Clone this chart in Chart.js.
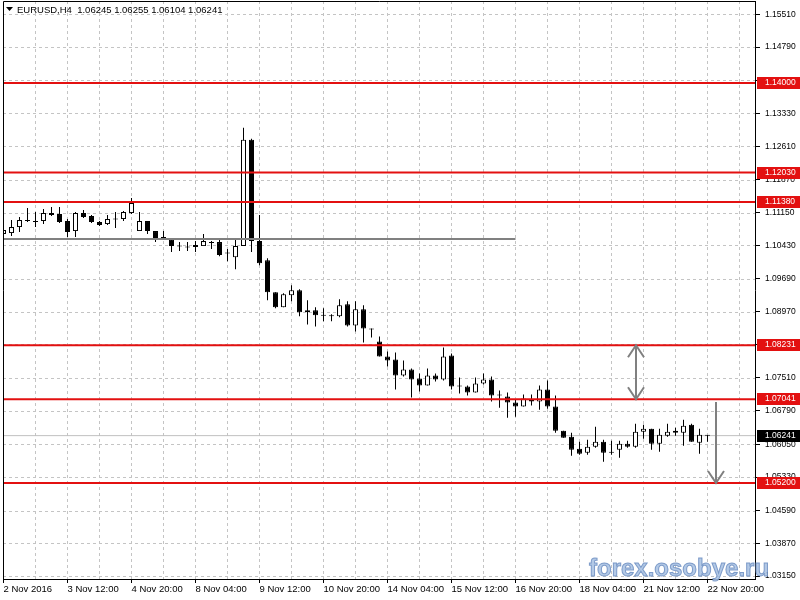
<!DOCTYPE html>
<html>
<head>
<meta charset="utf-8">
<title>EURUSD,H4</title>
<script src="https://cdn.jsdelivr.net/npm/chart.js@4.4.0/dist/chart.umd.min.js"></script>
<style>
  html, body { margin: 0; padding: 0; background: #fff; }
  #wrap { width: 800px; height: 600px; position: relative; }
</style>
</head>
<body>
<div id="wrap"><canvas id="chart"></canvas></div>
<script>
// EURUSD H4, 2 Nov 2016 04:00 .. 22 Nov 2016 20:00 (one entry per bar)
const symbol = 'EURUSD,H4';

const opens = [
    1.10676, 1.10698, 1.10830, 1.10985, 1.10963, 1.10963, 1.11139, 1.11117, 1.10963, 1.10742,
    1.11139, 1.11073, 1.10941, 1.10896, 1.11007, 1.11007, 1.11139, 1.10742, 1.10963, 1.10742,
    1.10610, 1.10565, 1.10422, 1.10389, 1.10389, 1.10411, 1.10499, 1.10499, 1.10257, 1.10168,
    1.10411, 1.12751, 1.10521, 1.10102, 1.09396, 1.09064, 1.09329, 1.09440, 1.08954, 1.08998,
    1.08888, 1.08888, 1.08866, 1.09131, 1.08667, 1.09020, 1.08601, 1.08314, 1.07983, 1.07917,
    1.07564, 1.07696, 1.07497, 1.07343, 1.07564, 1.07475, 1.08005, 1.07343, 1.07321, 1.07188,
    1.07387, 1.07475, 1.07144, 1.07100, 1.06968, 1.06880, 1.07034, 1.06990, 1.07254, 1.06880,
    1.06349, 1.06217, 1.05952, 1.05864, 1.05996, 1.06106, 1.05886, 1.05930, 1.06062, 1.05996,
    1.06327, 1.06393, 1.06062, 1.06239, 1.06349, 1.06305, 1.06482, 1.06084, 1.06245
];
const highs = [
    1.10808, 1.10985, 1.11051, 1.11249, 1.11161, 1.11227, 1.11271, 1.11271, 1.11007, 1.11161,
    1.11205, 1.11095, 1.10963, 1.11095, 1.11161, 1.11183, 1.11470, 1.11161, 1.10963, 1.10742,
    1.10742, 1.10588, 1.10499, 1.10499, 1.10521, 1.10676, 1.10521, 1.10565, 1.10345, 1.10565,
    1.13016, 1.12773, 1.11095, 1.10146, 1.09396, 1.09373, 1.09550, 1.09462, 1.09219, 1.09064,
    1.09042, 1.08910, 1.09241, 1.09197, 1.09197, 1.09109, 1.08601, 1.08425, 1.08093, 1.08071,
    1.07895, 1.07718, 1.07608, 1.07718, 1.07608, 1.08182, 1.08049, 1.07519, 1.07343, 1.07519,
    1.07608, 1.07541, 1.07232, 1.07188, 1.07034, 1.07144, 1.07144, 1.07343, 1.07453, 1.07122,
    1.06349, 1.06305, 1.06106, 1.06151, 1.06438, 1.06151, 1.06128, 1.06128, 1.06128, 1.06504,
    1.06482, 1.06393, 1.06393, 1.06504, 1.06416, 1.06592, 1.06504, 1.06393, 1.06255
];
const lows = [
    1.10610, 1.10632, 1.10720, 1.10941, 1.10830, 1.10896, 1.11073, 1.10919, 1.10610, 1.10610,
    1.11029, 1.10919, 1.10852, 1.10874, 1.10808, 1.10963, 1.11117, 1.10742, 1.10676, 1.10499,
    1.10565, 1.10279, 1.10301, 1.10301, 1.10279, 1.10411, 1.10345, 1.10190, 1.10080, 1.09903,
    1.10411, 1.10279, 1.09992, 1.09219, 1.09042, 1.09064, 1.09197, 1.08866, 1.08689, 1.08645,
    1.08756, 1.08756, 1.08844, 1.08645, 1.08535, 1.08292, 1.08403, 1.07983, 1.07762, 1.07254,
    1.07541, 1.07078, 1.07210, 1.07343, 1.07431, 1.07453, 1.07254, 1.07166, 1.07122, 1.07188,
    1.07365, 1.06990, 1.06857, 1.06637, 1.06659, 1.06880, 1.06902, 1.06813, 1.06835, 1.06305,
    1.06195, 1.05797, 1.05819, 1.05819, 1.05974, 1.05665, 1.05819, 1.05753, 1.05974, 1.05974,
    1.06173, 1.05930, 1.05886, 1.06217, 1.06239, 1.06018, 1.06106, 1.05842, 1.06104
];
const closes = [
    1.10764, 1.10830, 1.10985, 1.10963, 1.10941, 1.11139, 1.11095, 1.10941, 1.10720, 1.11139,
    1.11051, 1.10941, 1.10874, 1.11007, 1.10996, 1.11161, 1.11360, 1.10963, 1.10742, 1.10588,
    1.10588, 1.10411, 1.10400, 1.10378, 1.10433, 1.10521, 1.10477, 1.10213, 1.10246, 1.10411,
    1.12751, 1.10521, 1.10036, 1.09396, 1.09064, 1.09351, 1.09440, 1.08954, 1.08998, 1.08888,
    1.08877, 1.08866, 1.09109, 1.08667, 1.09020, 1.08601, 1.08579, 1.07983, 1.07895, 1.07564,
    1.07696, 1.07475, 1.07343, 1.07564, 1.07475, 1.07983, 1.07321, 1.07321, 1.07188, 1.07387,
    1.07475, 1.07122, 1.07122, 1.06968, 1.06880, 1.07056, 1.06990, 1.07254, 1.06880, 1.06349,
    1.06195, 1.05930, 1.05842, 1.05996, 1.06106, 1.05864, 1.05864, 1.06062, 1.05996, 1.06327,
    1.06393, 1.06062, 1.06261, 1.06327, 1.06305, 1.06460, 1.06106, 1.06261, 1.06241
];

// time labels, one every 8 bars
const xTickLabels = [
    '2 Nov 2016', '3 Nov 12:00', '4 Nov 20:00', '8 Nov 04:00', '9 Nov 12:00', '10 Nov 20:00',
    '14 Nov 04:00', '15 Nov 12:00', '16 Nov 20:00', '18 Nov 04:00', '21 Nov 12:00', '22 Nov 20:00'
];
const yTicks = [
    1.15510, 1.14790, 1.14060, 1.13330, 1.12610, 1.11870, 1.11150, 1.10430, 1.09690,
    1.08970, 1.08250, 1.07510, 1.06790, 1.06050, 1.05330, 1.04590, 1.03870, 1.03150
];

// drawn objects
const levels = [1.14000, 1.12030, 1.11380, 1.08231, 1.07041, 1.05200];
const greyLevel = 1.10570;
const greyLevelEnd = 64;           // bar where the grey line stops
const bidPrice = 1.06241;
const arrowBars  = [79, 89];
const arrowFrom  = [1.08231, 1.06980];
const arrowTo    = [1.07041, 1.05200];
const arrowBoth  = [true, false];

const X_MIN = -0.0625, X_MAX = 93.9375;
const Y_MIN = 1.030869, Y_MAX = 1.158042;
const RED = '#e31010';
const GRID = '#c4c4c4';
const FONT = "'Liberation Sans', Arial, sans-serif";

const wickData = opens.map((_, i) => ({ x: i, y: [lows[i], highs[i]] }));
const bodyData = opens.map((o, i) => ({ x: i, y: [o, closes[i]] }));
const bodyFill = opens.map((o, i) => closes[i] >= o ? '#ffffff' : '#000000');

const flat = (v, x0, x1) => [{ x: x0, y: v }, { x: x1, y: v }];

const datasets = [
    {
        type: 'line', data: flat(bidPrice, X_MIN, X_MAX),
        borderColor: '#c0c0c0', borderWidth: 1, pointRadius: 0, order: 5
    },
    {
        data: wickData, backgroundColor: '#000', borderWidth: 0,
        barThickness: 1, maxBarThickness: 1, inflateAmount: 0, grouped: false, order: 4
    },
    {
        data: bodyData, backgroundColor: bodyFill, borderColor: '#000', borderWidth: 1,
        borderSkipped: false, barThickness: 5, maxBarThickness: 5, minBarLength: 1,
        inflateAmount: 0, grouped: false, order: 3
    },
    {
        type: 'line', data: flat(greyLevel, X_MIN, greyLevelEnd),
        borderColor: '#808080', borderWidth: 2, pointRadius: 0, order: 2
    },
    ...levels.map(v => ({
        type: 'line', data: flat(v, X_MIN, X_MAX),
        borderColor: RED, borderWidth: 2, pointRadius: 0, order: 1
    }))
];

const mt4Plugin = {
    id: 'mt4',
    beforeDraw(chart) {
        const ctx = chart.ctx;
        ctx.save();
        ctx.fillStyle = '#fff';
        ctx.fillRect(0, 0, chart.width, chart.height);
        ctx.restore();
    },
    beforeDatasetsDraw(chart) {
        // dashed grid at the axis ticks
        const { ctx, chartArea: a } = chart;
        const xs = chart.scales.x, ys = chart.scales.y;
        ctx.save();
        ctx.strokeStyle = GRID;
        ctx.lineWidth = 1;
        ctx.setLineDash([3, 3]);
        ctx.beginPath();
        xs.ticks.forEach(t => {
            if (t.value <= 0) return;
            const x = Math.floor(xs.getPixelForValue(t.value)) + 0.5;
            ctx.moveTo(x, a.top);
            ctx.lineTo(x, a.bottom);
        });
        ys.ticks.forEach(t => {
            const y = Math.round(ys.getPixelForValue(t.value)) + 0.5;
            ctx.moveTo(a.left, y);
            ctx.lineTo(a.right, y);
        });
        ctx.stroke();
        ctx.restore();
    },
    afterDatasetsDraw(chart) {
        const { ctx, chartArea: a } = chart;
        const xs = chart.scales.x, ys = chart.scales.y;
        ctx.save();
        ctx.beginPath();
        ctx.rect(a.left, a.top, a.right - a.left, a.bottom - a.top);
        ctx.clip();
        ctx.strokeStyle = '#808080';
        ctx.lineWidth = 2;
        arrowBars.forEach((b, i) => {
            const x = Math.round(xs.getPixelForValue(b));
            const y1 = ys.getPixelForValue(arrowFrom[i]);
            const y2 = ys.getPixelForValue(arrowTo[i]);
            const dir = y2 > y1 ? 1 : -1;
            ctx.beginPath();
            ctx.moveTo(x, y1);
            ctx.lineTo(x, y2);
            ctx.moveTo(x - 8, y2 - 12 * dir);
            ctx.lineTo(x, y2);
            ctx.lineTo(x + 8, y2 - 12 * dir);
            if (arrowBoth[i]) {
                ctx.moveTo(x - 8, y1 + 12 * dir);
                ctx.lineTo(x, y1);
                ctx.lineTo(x + 8, y1 + 12 * dir);
            }
            ctx.stroke();
        });
        ctx.restore();
    },
    afterDraw(chart) {
        const { ctx, chartArea: a } = chart;
        const ys = chart.scales.y;
        ctx.save();

        // frame
        ctx.strokeStyle = '#000';
        ctx.lineWidth = 1;
        ctx.beginPath();
        ctx.moveTo(a.left + 0.5, a.bottom);
        ctx.lineTo(a.left + 0.5, a.top + 0.5);
        ctx.lineTo(a.right, a.top + 0.5);
        ctx.stroke();

        // price boxes on the axis
        ctx.font = '8.5px ' + FONT;
        ctx.textBaseline = 'middle';
        ctx.textAlign = 'left';
        const box = (v, bg) => {
            const y = ys.getPixelForValue(v);
            ctx.fillStyle = bg;
            ctx.fillRect(a.right + 2, Math.round(y) - 6, 43, 12);
            ctx.fillStyle = '#fff';
            ctx.fillText(v.toFixed(5), a.right + 10, Math.round(y));
        };
        levels.forEach(v => box(v, RED));
        box(bidPrice, '#000');

        // header
        ctx.fillStyle = '#000';
        ctx.beginPath();
        ctx.moveTo(6, 7);
        ctx.lineTo(13, 7);
        ctx.lineTo(9.5, 11);
        ctx.closePath();
        ctx.fill();
        ctx.font = '9.5px ' + FONT;
        const ohlc = [opens, highs, lows, closes].map(s => s[s.length - 1].toFixed(5)).join(' ');
        ctx.fillText(symbol + '  ' + ohlc, 17, 10);

        // watermark
        ctx.font = 'bold 24px ' + FONT;
        ctx.textBaseline = 'alphabetic';
        ctx.globalAlpha = 0.85;
        ctx.fillStyle = '#a6bfe2';
        ctx.fillText('forex.osobye.ru', 589, 576);
        ctx.strokeStyle = '#6f8fc2';
        ctx.lineWidth = 1;
        ctx.strokeText('forex.osobye.ru', 589, 576);
        ctx.restore();
    }
};

new Chart(document.getElementById('chart'), {
    type: 'bar',
    data: { datasets },
    options: {
        responsive: true,
        maintainAspectRatio: false,
        animation: false,
        events: [],
        layout: { padding: { left: 3, top: 1, right: 0, bottom: 0 } },
        plugins: {
            legend: { display: false },
            tooltip: { enabled: false }
        },
        scales: {
            x: {
                type: 'linear',
                min: X_MIN,
                max: X_MAX,
                offset: false,
                afterBuildTicks: axis => {
                    const t = [];
                    for (let k = 0; k <= 92; k += 4) t.push({ value: k });
                    axis.ticks = t;
                },
                afterFit: axis => { axis.height = 21; axis.paddingLeft = 0; axis.paddingRight = 0; },
                grid: {
                    offset: false,
                    drawOnChartArea: false,
                    tickLength: 4,
                    tickColor: c => (c.tick && c.tick.value % 8 === 0) ? '#000' : 'rgba(0,0,0,0)'
                },
                border: { color: '#000' },
                ticks: {
                    autoSkip: false,
                    maxRotation: 0,
                    align: 'start',
                    padding: 1,
                    color: '#000',
                    font: { family: FONT, size: 9.5 },
                    callback: v => (v % 8 === 0 ? (xTickLabels[v / 8] || '') : '')
                }
            },
            y: {
                position: 'right',
                min: Y_MIN,
                max: Y_MAX,
                afterBuildTicks: axis => { axis.ticks = yTicks.map(v => ({ value: v })); },
                afterFit: axis => { axis.width = 45; axis.paddingTop = 0; axis.paddingBottom = 0; },
                grid: {
                    drawOnChartArea: false,
                    tickLength: 5,
                    tickColor: '#000'
                },
                border: { color: '#000' },
                ticks: {
                    autoSkip: false,
                    padding: 5,
                    color: '#000',
                    font: { family: FONT, size: 8.5 },
                    callback: v => Number(v).toFixed(5)
                }
            }
        }
    },
    plugins: [mt4Plugin]
});
</script>
</body>
</html>
